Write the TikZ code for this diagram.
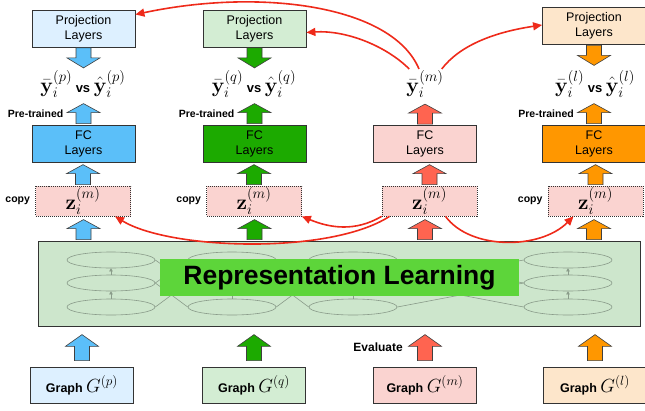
\RequirePackage{fix-cm}
\documentclass[tikz,border=0pt]{standalone}
\usepackage{amsmath}
\usepackage[no-math]{fontspec}
\setmainfont{Liberation Sans}
\usetikzlibrary{positioning,calc,shapes.geometric,arrows.meta}

\definecolor{lblue}{HTML}{DDF0FF}
\definecolor{dblue}{HTML}{5BBFF9}
\definecolor{lgreen}{HTML}{D3EDD3}
\definecolor{dgreen}{HTML}{1CAA00}
\definecolor{lpink}{HTML}{FAD3D0}
\definecolor{salmon}{HTML}{FF6450}
\definecolor{lorange}{HTML}{FDE6CB}
\definecolor{dorange}{HTML}{FF9700}
\definecolor{repbg}{HTML}{CDE6CC}
\definecolor{replab}{HTML}{5DD53A}
\definecolor{arrred}{HTML}{EE2A1A}
\definecolor{ellgray}{HTML}{8A9C8A}

\newcommand{\vsword}{{\fontsize{13}{15}\selectfont\bfseries\ vs\ }}

\tikzset{
  layerbox/.style={draw=black!80, line width=0.8pt, minimum width=103pt, minimum height=37pt,
    inner sep=0pt, align=center, font=\fontsize{12.5}{15}\selectfont},
  graphbox/.style={layerbox, minimum height=36pt},
  zbox/.style={draw=black!80, dash pattern=on 1pt off 1pt, line width=0.7pt, fill=lpink,
    minimum width=95pt, minimum height=30pt, inner sep=0pt, font=\fontsize{21}{23}\selectfont},
  mathlbl/.style={inner sep=1pt, font=\fontsize{21}{23}\selectfont},
  sidelbl/.style={inner sep=0pt, font=\bfseries\fontsize{10.5}{12}\selectfont},
  ell/.style={ellipse, draw=ellgray, line width=0.6pt, minimum width=88pt, minimum height=16pt, inner sep=0pt},
  redarr/.style={draw=arrred, line width=1.6pt, -{Triangle[length=9pt,width=8pt]}},
  blk/.style={draw=black!75, line width=0.6pt},
  blkup/.pic={\path[pic actions] (-7.5pt,-10pt) -- (7.5pt,-10pt) -- (7.5pt,1pt) -- (16.5pt,1pt)
    -- (0pt,10pt) -- (-16.5pt,1pt) -- (-7.5pt,1pt) -- cycle;},
  blkdown/.pic={\path[pic actions] (-7.5pt,10pt) -- (7.5pt,10pt) -- (7.5pt,0pt) -- (16.5pt,0pt)
    -- (0pt,-10pt) -- (-16.5pt,0pt) -- (-7.5pt,0pt) -- cycle;}
}

\begin{document}
\begin{tikzpicture}[x=1pt,y=-1pt]
\useasboundingbox (0,0) rectangle (645,410);

% projection heads
\node[layerbox, fill=lblue] (proj1) at (83.5,28.5) {Projection\\Layers};
\node[layerbox, fill=lgreen] (proj2) at (254.5,28.5) {Projection\\Layers};
\node[layerbox, fill=lorange] (proj4) at (594,26) {Projection\\Layers};

% predictions
\node[mathlbl] (yv1) at (83,84) {$\bar{\mathbf{y}}_i^{(p)}$\vsword$\hat{\mathbf{y}}_i^{(p)}$};
\node[mathlbl] (yv2) at (254,84) {$\bar{\mathbf{y}}_i^{(q)}$\vsword$\hat{\mathbf{y}}_i^{(q)}$};
\node[mathlbl] (ym) at (425,84) {$\bar{\mathbf{y}}_i^{(m)}$};
\node[mathlbl] (yv4) at (595,84) {$\bar{\mathbf{y}}_i^{(l)}$\vsword$\hat{\mathbf{y}}_i^{(l)}$};

% FC layers
\node[layerbox, fill=dblue] (fc1) at (83.5,143.5) {FC\\Layers};
\node[layerbox, fill=dgreen] (fc2) at (254.5,143.5) {FC\\Layers};
\node[layerbox, fill=lpink] (fc3) at (425,144) {FC\\Layers};
\node[layerbox, fill=dorange] (fc4) at (594,143.5) {FC\\Layers};

% embeddings
\node[zbox] (z1) at (83,201) {$\mathbf{z}_i^{(m)}$};
\node[zbox] (z2) at (254,201) {$\mathbf{z}_i^{(m)}$};
\node[zbox] (z3) at (429.5,201) {$\mathbf{z}_i^{(m)}$};
\node[zbox] (z4) at (595.5,201) {$\mathbf{z}_i^{(m)}$};

% representation learning block
\node[draw=black!80, line width=0.8pt, fill=repbg, minimum width=602pt, minimum height=85pt] (rep) at (339,283.5) {};
\foreach \x [count=\i] in {111,232,353,568}
  \foreach \y [count=\j] in {260,283,307}
    \node[ell] (e\i\j) at (\x,\y) {};
\foreach \i/\k in {1/2,2/3,3/4} {
  \draw[ellgray, line width=0.6pt] (e\i1.east) -- (e\k2.west);
  \draw[ellgray, line width=0.6pt] (e\i2.east) -- (e\k1.west);
  \draw[ellgray, line width=0.6pt] (e\i2.east) -- (e\k3.west);
  \draw[ellgray, line width=0.6pt] (e\i3.east) -- (e\k2.west);
}
\foreach \i in {1,...,4} {
  \draw[ellgray, line width=0.6pt, -{Triangle[length=3pt,width=3.5pt]}] (e\i3.north) -- (e\i2.south);
  \draw[ellgray, line width=0.6pt, -{Triangle[length=3pt,width=3.5pt]}] (e\i2.north) -- (e\i1.south);
}
\node[fill=replab, minimum width=359pt, minimum height=37pt, inner sep=0pt,
  font=\bfseries\fontsize{26.5}{30}\selectfont] (replbl) at (339.5,277.5) {Representation Learning};

% input graphs
\node[graphbox, fill=lblue] (g1) at (82,385) {{\bfseries Graph}~{\fontsize{19}{21}\selectfont$G^{(p)}$}};
\node[graphbox, fill=lgreen] (g2) at (254,385) {{\bfseries Graph}~{\fontsize{19}{21}\selectfont$G^{(q)}$}};
\node[graphbox, fill=lpink] (g3) at (425,385) {{\bfseries Graph}~{\fontsize{19}{21}\selectfont$G^{(m)}$}};
\node[graphbox, fill=lorange] (g4) at (595,385) {{\bfseries Graph}~{\fontsize{19}{21}\selectfont$G^{(l)}$}};

% block arrows
\pic[blk, fill=dblue] at ($(proj1.south)+(0pt,-10.5pt)$) {blkdown};
\pic[blk, fill=dgreen] at ($(proj2.south)+(0pt,-10.5pt)$) {blkdown};
\pic[blk, fill=dorange] at ($(proj4.south)+(0pt,-10.5pt)$) {blkdown};
\foreach \n/\c in {1/dblue,2/dgreen,3/salmon,4/dorange} {
  \pic[blk, fill=\c] at ($(fc\n.north)+(0pt,11pt)$) {blkup};
  \pic[blk, fill=\c] at ($(z\n.north)+(0pt,11pt)$) {blkup};
  \pic[blk, fill=\c] at ($(rep.north -| fc\n)+(0pt,11pt)$) {blkup};
  \pic[blk, fill=\c, yscale=1.3] at ($(g\n.north)+(0pt,19pt)$) {blkup};
}

% side labels
\node[sidelbl, anchor=east] (pre1) at ($(fc1.north)+(-20pt,11pt)$) {Pre-trained};
\node[sidelbl, anchor=east] (pre2) at ($(fc2.north)+(-20pt,11pt)$) {Pre-trained};
\node[sidelbl, anchor=east] (pre4) at ($(fc4.north)+(-20pt,11pt)$) {Pre-trained};
\node[sidelbl, left=5pt of z1] (cp1) {copy};
\node[sidelbl, left=5pt of z2] (cp2) {copy};
\node[sidelbl, left=5pt of z4] (cp4) {copy};
\node[sidelbl, anchor=east, font=\bfseries\fontsize{12}{14}\selectfont] (eval) at ($(g3.north)+(-22pt,19pt)$) {Evaluate};

% transfer arrows
\draw[redarr] ([xshift=-6pt]ym.north) .. controls (392,5) and (260,-12) .. ([yshift=14pt]proj1.east);
\draw[redarr] ([xshift=4pt]ym.north west) .. controls (385,45) and (345,30) .. ([yshift=-4pt]proj2.east);
\draw[redarr] ([xshift=-3pt]ym.north east) .. controls (460,45) and (495,32) .. ([yshift=1pt]proj4.west);
\draw[redarr] (z3.south west) .. controls (355,232) and (330,228) .. (z2.south east);
\draw[redarr] ([xshift=-40pt]z3.south) .. controls (330,255) and (170,250) .. ([xshift=32pt]z1.south);
\draw[redarr] ([xshift=16pt]z3.south) .. controls (470,250) and (540,250) .. ([xshift=-22pt]z4.south);
\end{tikzpicture}
\end{document}
